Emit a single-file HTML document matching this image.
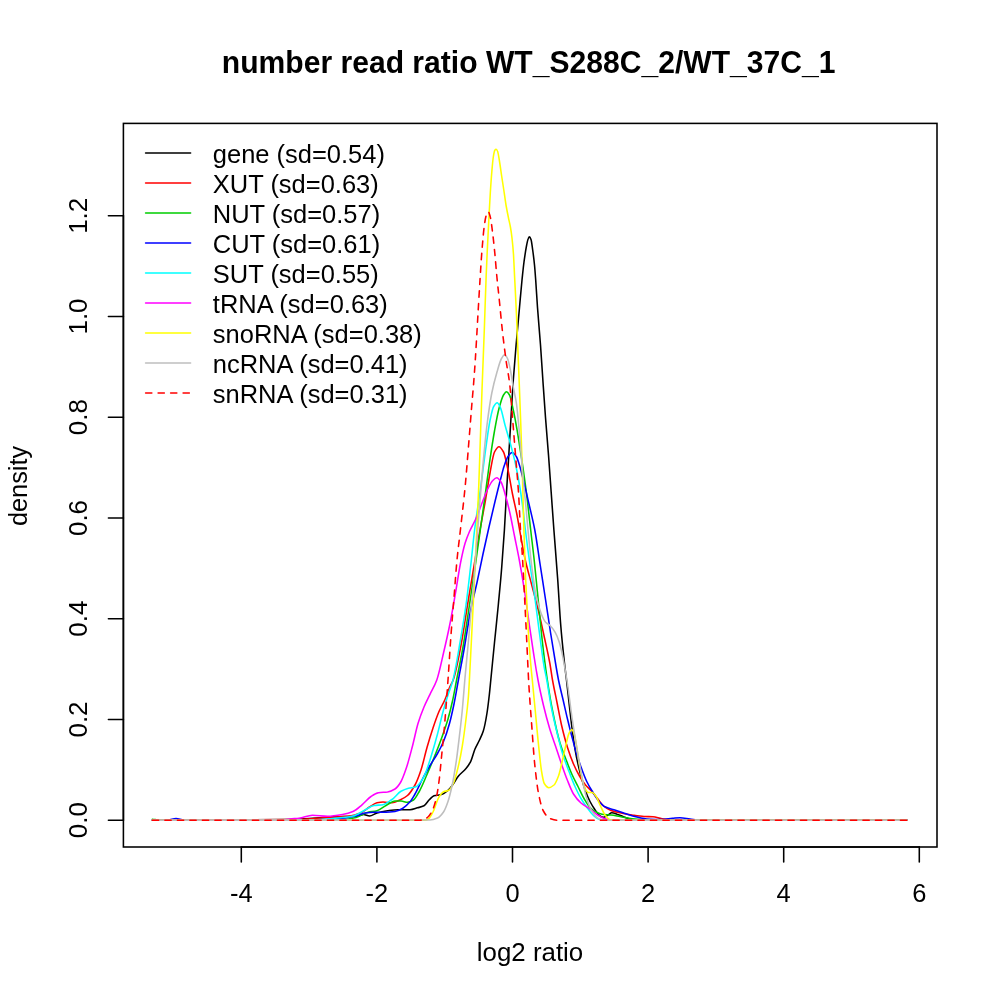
<!DOCTYPE html>
<html><head><meta charset="utf-8"><title>number read ratio</title>
<style>
html,body{margin:0;padding:0;background:#fff;}
svg{display:block}
text{font-family:"Liberation Sans",Arial,Helvetica,sans-serif;fill:#000}
.t{font-size:25px}
.m{font-size:30px;font-weight:bold}
.c{fill:none;stroke-width:1.56;stroke-linejoin:round;stroke-linecap:round}
.a{fill:none;stroke:#000;stroke-width:1.56;stroke-linecap:round}
</style></head><body>
<svg width="1000" height="1000" viewBox="0 0 1000 1000">
<rect width="1000" height="1000" fill="#fff"/>

<g>
<path class="c" stroke="#000000" d="M152.4,820.2C198.3,820.0 244.1,820.0 290.0,819.5C297.5,819.4 305.0,818.7 312.5,818.3C320.0,817.9 327.5,817.1 335.0,816.8C342.5,816.5 350.0,816.5 357.5,816.0C359.5,815.9 361.5,814.5 363.5,814.5C365.5,814.5 367.5,816.0 369.5,816.0C372.0,816.0 374.5,813.7 377.0,813.0C380.5,812.0 384.0,811.3 387.5,810.8C391.0,810.3 394.5,809.7 398.0,809.7C402.0,809.7 406.0,809.7 410.0,809.7C412.5,809.7 415.0,808.5 417.5,807.8C419.7,807.2 421.8,806.9 424.0,805.8C425.8,804.9 427.7,801.2 429.5,799.5C431.0,798.1 432.5,796.2 434.0,795.8C436.2,795.2 438.3,795.3 440.5,794.8C443.0,794.2 445.5,792.3 448.0,790.3C449.5,789.1 451.0,787.0 452.5,785.0C454.5,782.4 456.5,778.4 458.5,776.0C461.0,773.0 463.5,771.5 466.0,768.5C467.5,766.7 469.0,764.7 470.5,761.8C472.0,758.9 473.5,752.5 475.0,749.0C476.5,745.5 478.0,743.3 479.5,740.0C480.8,737.2 482.0,735.0 483.3,731.0C484.5,727.1 485.8,720.5 487.0,713.0C487.8,708.3 488.5,701.8 489.3,695.0C489.8,690.6 490.3,685.0 490.8,680.0C492.0,667.6 493.3,654.8 494.5,642.5C495.8,629.8 497.0,618.2 498.3,605.0C499.4,593.2 500.6,581.5 501.7,567.5C502.6,556.4 503.5,544.1 504.4,530.0C505.1,519.0 505.8,504.4 506.5,492.5C507.3,479.4 508.0,467.8 508.8,455.0C509.5,442.8 510.3,429.7 511.0,417.5C511.8,404.7 512.5,390.9 513.3,380.0C514.4,364.9 515.4,352.9 516.5,340.5C517.5,328.9 518.5,318.5 519.5,307.5C520.3,298.3 521.2,288.2 522.0,280.0C522.7,273.4 523.3,267.1 524.0,262.0C524.8,256.2 525.5,251.0 526.3,247.0C526.9,243.7 527.6,240.2 528.2,238.8C528.6,237.8 529.1,236.8 529.5,236.8C530.0,236.8 530.5,238.1 531.0,239.5C531.6,241.1 532.1,246.0 532.7,250.0C533.3,254.3 533.9,258.9 534.5,265.0C534.9,269.1 535.3,274.5 535.7,280.0C536.3,288.2 536.9,299.2 537.5,307.5C538.5,321.4 539.5,331.4 540.5,345.0C541.4,357.2 542.3,372.0 543.2,385.0C544.0,396.1 544.7,407.3 545.5,417.5C546.5,430.8 547.5,441.8 548.5,455.0C549.4,466.9 550.3,480.0 551.2,492.5C552.1,505.0 553.0,517.9 553.9,530.0C555.1,546.6 556.4,560.8 557.6,578.0C558.7,592.9 559.7,613.1 560.8,626.0C562.1,642.1 563.5,654.1 564.8,666.0C565.4,671.1 565.9,675.1 566.5,680.0C567.3,687.1 568.2,695.2 569.0,702.5C570.0,711.3 571.0,720.3 572.0,728.0C573.0,735.7 574.0,743.2 575.0,749.0C576.0,754.8 577.0,759.6 578.0,764.0C579.3,769.6 580.5,774.5 581.8,779.0C583.0,783.4 584.3,787.6 585.5,791.0C587.0,795.1 588.5,798.6 590.0,801.5C591.5,804.4 593.0,806.8 594.5,809.0C596.0,811.2 597.5,813.9 599.0,815.0C600.5,816.1 602.0,817.3 603.5,817.3C605.0,817.3 606.5,815.8 608.0,815.0C609.3,814.3 610.5,812.8 611.8,812.8C613.5,812.8 615.3,813.7 617.0,814.3C619.0,814.9 621.0,815.8 623.0,816.5C625.0,817.2 627.0,818.3 629.0,818.8C631.0,819.3 633.0,819.7 635.0,819.8C643.3,820.1 651.7,820.2 660.0,820.2C742.3,820.2 824.6,820.2 906.9,820.2"/>
<path class="c" stroke="#FF0000" d="M152.4,820.2C201.6,820.0 250.8,820.0 300.0,819.5C309.2,819.4 318.3,818.1 327.5,817.5C335.0,817.0 342.5,816.9 350.0,816.0C353.5,815.6 357.0,814.4 360.5,813.0C363.5,811.8 366.5,808.8 369.5,807.0C372.0,805.5 374.5,803.3 377.0,802.8C379.0,802.4 381.0,802.0 383.0,802.0C386.0,802.0 389.0,802.8 392.0,802.8C394.7,802.8 397.3,801.2 400.0,800.0C402.5,798.9 405.0,797.6 407.5,795.5C410.0,793.4 412.5,789.5 415.0,785.0C417.0,781.4 419.0,776.0 421.0,770.0C423.0,764.0 425.0,754.5 427.0,747.5C429.0,740.5 431.0,734.0 433.0,728.0C435.0,722.0 437.0,716.1 439.0,711.5C441.0,706.9 443.0,704.1 445.0,699.5C446.5,696.0 448.0,690.9 449.5,687.5C450.7,684.7 452.0,683.3 453.2,680.0C456.0,672.6 458.7,657.1 461.5,642.5C463.5,631.9 465.5,617.2 467.5,605.0C469.0,595.8 470.5,587.0 472.0,578.0C473.0,572.0 474.0,566.0 475.0,560.0C476.7,550.0 478.3,539.5 480.0,530.0C481.8,519.5 483.7,510.5 485.5,500.0C487.0,491.4 488.5,480.9 490.0,473.0C491.5,465.1 493.0,454.8 494.5,452.0C496.0,449.2 497.5,446.8 499.0,446.8C500.5,446.8 502.0,449.3 503.5,452.0C505.0,454.7 506.5,463.1 508.0,470.0C509.5,476.9 511.0,486.5 512.5,494.0C514.0,501.5 515.5,507.3 517.0,515.0C518.0,520.2 519.0,526.5 520.0,532.0C521.8,542.1 523.7,552.8 525.5,561.0C527.5,569.9 529.5,576.3 531.5,584.0C533.8,593.0 536.2,601.3 538.5,611.0C540.5,619.3 542.5,628.8 544.5,638.0C546.3,646.1 548.0,653.3 549.8,663.0C550.7,667.9 551.6,674.9 552.5,680.0C554.0,688.4 555.5,695.0 557.0,702.5C558.5,710.0 560.0,718.5 561.5,725.0C563.5,733.6 565.5,741.2 567.5,747.5C569.5,753.8 571.5,759.4 573.5,764.0C575.5,768.6 577.5,772.6 579.5,776.0C581.5,779.4 583.5,782.6 585.5,785.0C587.5,787.4 589.5,788.8 591.5,791.0C593.5,793.2 595.5,796.0 597.5,798.5C599.5,801.0 601.5,804.4 603.5,806.0C606.0,808.1 608.5,809.6 611.0,810.5C614.0,811.6 617.0,812.2 620.0,812.8C624.0,813.7 628.0,814.4 632.0,815.0C636.0,815.6 640.0,816.3 644.0,816.5C647.0,816.7 650.0,816.6 653.0,816.8C656.0,817.0 659.0,818.4 662.0,818.8C665.0,819.2 668.0,819.7 671.0,819.8C677.3,820.0 683.7,820.2 690.0,820.2C762.3,820.2 834.6,820.2 906.9,820.2"/>
<path class="c" stroke="#00CD00" d="M152.4,819.2C154.9,819.5 157.5,820.2 160.0,820.2C220.0,820.2 280.0,820.2 340.0,819.8C345.3,819.8 350.7,818.7 356.0,817.5C360.0,816.6 364.0,813.2 368.0,812.3C371.0,811.6 374.0,811.6 377.0,810.8C380.0,810.0 383.0,807.1 386.0,805.5C389.0,803.9 392.0,801.0 395.0,801.0C397.0,801.0 399.0,801.0 401.0,801.0C403.2,801.0 405.3,802.3 407.5,802.3C409.5,802.3 411.5,801.2 413.5,800.0C415.5,798.8 417.5,794.5 419.5,791.0C422.0,786.6 424.5,780.2 427.0,774.5C429.5,768.8 432.0,762.7 434.5,756.5C437.0,750.3 439.5,744.0 442.0,737.0C444.0,731.4 446.0,725.9 448.0,719.0C449.5,713.8 451.0,707.8 452.5,701.0C453.9,694.8 455.2,687.0 456.6,680.0C458.7,669.0 460.9,659.3 463.0,647.0C465.0,635.5 467.0,621.2 469.0,608.0C471.0,594.8 473.0,581.3 475.0,567.5C476.8,555.3 478.5,542.6 480.3,530.0C482.0,517.6 483.8,505.1 485.5,492.5C487.0,481.6 488.5,469.7 490.0,459.5C491.5,449.3 493.0,439.4 494.5,431.0C496.0,422.6 497.5,414.1 499.0,408.5C500.5,402.9 502.0,397.3 503.5,395.0C504.5,393.4 505.5,391.7 506.5,391.7C507.5,391.7 508.5,393.3 509.5,395.0C510.8,397.1 512.0,404.3 513.3,410.0C514.5,415.6 515.8,422.4 517.0,429.5C518.5,438.1 520.0,448.0 521.5,458.0C523.0,468.0 524.5,477.9 526.0,489.5C527.6,501.6 529.1,516.5 530.7,530.0C531.9,540.6 533.2,550.6 534.4,562.0C535.7,574.4 537.1,588.7 538.4,602.0C539.7,615.3 541.1,630.3 542.4,642.0C543.9,655.2 545.4,666.8 546.9,677.0C548.7,689.1 550.4,700.0 552.2,709.0C554.8,722.3 557.4,734.3 560.0,743.0C562.0,749.7 564.0,754.3 566.0,759.5C568.0,764.7 570.0,770.1 572.0,774.5C574.0,778.9 576.0,782.5 578.0,786.5C580.0,790.5 582.0,795.1 584.0,798.5C586.0,801.9 588.0,805.5 590.0,807.5C592.0,809.5 594.0,811.0 596.0,812.0C598.0,813.0 600.0,814.0 602.0,814.3C605.0,814.7 608.0,814.7 611.0,815.0C614.0,815.3 617.0,816.0 620.0,816.5C624.0,817.2 628.0,818.3 632.0,818.8C636.0,819.3 640.0,819.6 644.0,819.8C649.3,820.0 654.7,820.2 660.0,820.2C742.3,820.2 824.6,820.2 906.9,820.2"/>
<path class="c" stroke="#0000FF" d="M152.4,820.2C157.6,820.1 162.8,820.1 168.0,820.0C170.7,819.9 173.3,818.5 176.0,818.5C178.7,818.5 181.3,820.0 184.0,820.0C222.7,820.0 261.3,820.0 300.0,820.0C311.7,820.0 323.3,819.6 335.0,819.0C342.0,818.6 349.0,817.5 356.0,816.0C359.0,815.4 362.0,813.4 365.0,813.0C368.0,812.6 371.0,812.3 374.0,812.3C378.0,812.3 382.0,812.3 386.0,812.3C389.0,812.3 392.0,811.9 395.0,811.5C397.5,811.1 400.0,809.9 402.5,808.5C405.0,807.1 407.5,804.7 410.0,801.8C411.7,799.9 413.3,796.9 415.0,794.0C417.5,789.7 420.0,783.7 422.5,779.0C425.0,774.3 427.5,769.7 430.0,765.5C432.5,761.3 435.0,758.0 437.5,753.5C439.5,749.9 441.5,746.3 443.5,741.5C445.5,736.7 447.5,730.7 449.5,723.5C451.0,718.1 452.5,711.2 454.0,704.0C455.5,696.9 456.9,688.0 458.4,680.0C460.4,669.0 462.5,658.6 464.5,647.0C466.5,635.6 468.5,621.2 470.5,611.0C472.7,600.0 474.8,592.4 477.0,582.5C479.0,573.4 481.0,563.2 483.0,554.0C485.0,544.8 487.0,535.7 489.0,527.0C491.0,518.3 493.0,509.7 495.0,501.5C497.0,493.3 499.0,485.1 501.0,477.5C502.0,473.7 503.0,469.5 504.0,466.5C505.3,462.5 506.7,458.3 508.0,456.5C509.4,454.6 510.8,452.5 512.2,452.5C513.6,452.5 514.9,454.5 516.3,456.5C517.5,458.3 518.8,462.9 520.0,467.0C521.5,472.0 523.0,478.8 524.5,485.0C526.3,492.3 528.0,499.8 529.8,507.5C531.5,514.8 533.1,521.2 534.8,530.0C536.6,539.5 538.4,553.3 540.2,565.0C542.0,576.7 543.8,588.2 545.6,600.0C547.3,610.9 548.9,622.4 550.6,633.0C552.4,644.4 554.2,655.5 556.0,666.0C556.8,670.8 557.7,675.9 558.5,680.0C560.0,687.4 561.5,693.0 563.0,699.5C564.5,706.0 566.0,712.8 567.5,719.0C569.0,725.2 570.5,731.3 572.0,737.0C573.5,742.7 575.0,748.5 576.5,753.5C578.0,758.5 579.5,762.9 581.0,767.0C583.0,772.5 585.0,777.9 587.0,782.0C589.0,786.1 591.0,789.3 593.0,792.5C595.0,795.7 597.0,799.3 599.0,801.5C601.0,803.7 603.0,805.8 605.0,806.8C608.0,808.3 611.0,808.8 614.0,809.8C617.0,810.8 620.0,811.8 623.0,812.8C626.0,813.8 629.0,815.0 632.0,815.8C635.0,816.6 638.0,817.5 641.0,818.0C644.0,818.5 647.0,819.1 650.0,819.2C654.0,819.4 658.0,819.5 662.0,819.5C665.5,819.5 669.0,818.6 672.5,818.3C675.0,818.1 677.5,817.7 680.0,817.7C683.3,817.7 686.7,818.6 690.0,819.0C693.3,819.4 696.7,820.2 700.0,820.2C769.0,820.2 837.9,820.2 906.9,820.2"/>
<path class="c" stroke="#00FFFF" d="M152.4,820.2C204.9,820.1 257.5,820.2 310.0,820.0C318.3,820.0 326.7,819.1 335.0,818.3C341.0,817.8 347.0,817.3 353.0,816.0C357.0,815.2 361.0,812.0 365.0,810.0C368.0,808.5 371.0,805.9 374.0,805.5C377.0,805.1 380.0,805.2 383.0,804.8C386.0,804.4 389.0,801.6 392.0,799.5C395.0,797.4 398.0,792.9 401.0,791.3C403.5,789.9 406.0,789.0 408.5,788.3C411.0,787.6 413.5,787.7 416.0,786.8C418.0,786.1 420.0,783.0 422.0,780.0C423.2,778.3 424.3,775.8 425.5,773.0C427.5,768.3 429.5,761.5 431.5,755.0C433.5,748.5 435.5,741.5 437.5,734.0C439.5,726.5 441.5,717.2 443.5,710.0C445.0,704.6 446.5,699.7 448.0,695.0C449.7,689.7 451.3,686.3 453.0,680.0C455.3,671.2 457.7,656.0 460.0,642.5C462.0,630.9 464.0,619.4 466.0,605.0C467.5,594.2 469.0,580.6 470.5,567.5C471.9,555.6 473.2,541.0 474.6,530.0C476.7,512.9 478.9,500.7 481.0,485.0C482.5,474.0 484.0,461.2 485.5,450.5C487.0,439.8 488.5,427.6 490.0,420.5C491.3,414.5 492.5,408.3 493.8,406.3C494.9,404.5 496.1,402.8 497.2,402.8C498.3,402.8 499.4,405.5 500.5,407.8C502.0,411.0 503.5,419.5 505.0,425.0C507.0,432.3 509.0,438.5 511.0,446.0C512.5,451.6 514.0,457.1 515.5,464.0C517.0,470.9 518.5,478.8 520.0,488.0C521.0,494.1 522.0,501.2 523.0,509.0C523.8,515.2 524.6,523.4 525.4,530.0C526.8,541.5 528.2,552.0 529.6,562.0C531.2,573.4 532.8,582.5 534.4,594.0C536.0,605.7 537.7,619.8 539.3,632.0C540.9,643.7 542.4,656.9 544.0,666.0C544.9,671.4 545.9,674.9 546.8,680.0C548.2,687.6 549.6,698.2 551.0,705.5C553.0,715.9 555.0,724.3 557.0,732.5C559.0,740.7 561.0,748.7 563.0,755.0C565.0,761.3 567.0,766.3 569.0,771.5C571.0,776.7 573.0,782.1 575.0,786.5C577.0,790.9 579.0,795.1 581.0,798.5C583.0,801.9 585.0,804.8 587.0,807.5C589.0,810.2 591.0,813.2 593.0,815.0C595.0,816.8 597.0,818.7 599.0,819.2C601.0,819.7 603.0,820.2 605.0,820.2C705.6,820.2 806.3,820.2 906.9,820.2"/>
<path class="c" stroke="#FF00FF" d="M152.4,820.2C194.9,820.1 237.5,820.2 280.0,820.0C283.3,820.0 286.7,819.3 290.0,819.0C293.0,818.7 296.0,818.6 299.0,818.3C303.5,817.8 308.0,815.3 312.5,815.3C317.5,815.3 322.5,816.3 327.5,816.3C332.5,816.3 337.5,815.4 342.5,814.5C346.0,813.9 349.5,813.0 353.0,811.5C356.0,810.2 359.0,807.3 362.0,804.8C365.0,802.3 368.0,798.4 371.0,796.5C373.5,794.9 376.0,793.2 378.5,792.8C381.5,792.3 384.5,792.4 387.5,792.0C390.0,791.6 392.5,790.5 395.0,789.0C396.8,787.9 398.7,785.4 400.5,782.5C402.5,779.3 404.5,773.4 406.5,767.5C408.5,761.6 410.5,753.6 412.5,746.0C414.3,739.0 416.2,729.5 418.0,723.5C420.0,716.9 422.0,711.8 424.0,707.0C426.0,702.2 428.0,698.5 430.0,694.3C432.3,689.5 434.5,686.3 436.8,680.0C439.0,673.8 441.3,662.5 443.5,653.0C445.5,644.5 447.5,635.9 449.5,626.0C451.7,615.3 453.8,602.5 456.0,590.0C457.5,581.3 459.0,570.5 460.5,563.0C462.0,555.5 463.5,548.5 465.0,543.5C466.5,538.5 468.0,535.0 469.5,531.5C471.5,526.9 473.5,523.9 475.5,519.5C477.5,515.1 479.5,509.5 481.5,504.5C483.5,499.5 485.5,493.5 487.5,489.5C489.3,485.9 491.0,482.2 492.8,480.5C494.1,479.2 495.5,477.8 496.8,477.8C498.2,477.8 499.6,479.9 501.0,482.0C502.5,484.2 504.0,490.4 505.5,495.5C507.0,500.6 508.5,506.8 510.0,513.5C511.5,520.2 513.0,528.5 514.5,536.0C516.1,544.0 517.7,551.3 519.3,560.0C521.1,569.7 522.9,580.4 524.7,592.0C526.2,601.9 527.8,614.0 529.3,624.5C531.0,636.0 532.6,647.5 534.3,658.0C535.5,665.7 536.8,673.5 538.0,680.0C539.8,689.6 541.7,697.9 543.5,705.5C545.5,713.8 547.5,721.3 549.5,728.0C551.5,734.7 553.5,740.0 555.5,746.0C557.5,752.0 559.5,758.3 561.5,764.0C563.5,769.7 565.5,775.5 567.5,780.5C569.5,785.5 571.5,790.8 573.5,794.0C576.0,798.0 578.5,800.8 581.0,803.0C584.0,805.6 587.0,806.8 590.0,809.0C592.5,810.8 595.0,813.4 597.5,815.0C600.0,816.6 602.5,818.1 605.0,818.8C607.5,819.5 610.0,820.2 612.5,820.2C710.6,820.2 808.8,820.2 906.9,820.2"/>
<path class="c" stroke="#FFFF00" d="M152.4,820.2C243.3,820.2 334.1,820.2 425.0,820.2C426.3,820.2 427.7,819.4 429.0,818.5C430.3,817.6 431.7,814.6 433.0,812.0C435.0,808.1 437.0,800.1 439.0,797.0C440.5,794.7 442.0,792.5 443.5,791.8C445.3,791.0 447.0,791.2 448.8,790.3C450.3,789.6 451.8,786.6 453.3,783.5C454.8,780.4 456.3,774.5 457.8,768.5C459.3,762.5 460.8,755.0 462.3,746.0C463.5,738.6 464.8,729.1 466.0,719.0C466.8,712.7 467.5,707.3 468.3,698.0C468.7,693.6 469.0,686.5 469.4,680.0C470.0,668.8 470.7,655.0 471.3,642.5C471.9,630.0 472.6,617.8 473.2,605.0C473.8,592.8 474.4,580.0 475.0,567.5C475.6,555.0 476.2,543.0 476.8,530.0C477.5,515.6 478.1,502.3 478.8,485.0C479.3,472.1 479.8,454.9 480.3,440.0C480.9,423.2 481.4,405.7 482.0,390.0C482.8,368.7 483.5,351.1 484.3,330.0C484.9,312.6 485.6,291.0 486.2,275.0C486.6,265.8 486.9,257.8 487.3,250.0C487.8,239.3 488.3,229.5 488.8,220.0C489.3,210.5 489.8,200.9 490.3,193.0C490.8,185.1 491.3,177.8 491.8,172.0C492.3,166.2 492.8,160.1 493.3,157.0C493.8,153.9 494.3,151.0 494.8,150.3C495.2,149.7 495.6,149.2 496.0,149.2C496.5,149.2 497.0,150.0 497.5,151.0C498.1,152.1 498.7,156.6 499.3,160.0C500.0,164.2 500.8,170.1 501.5,175.0C502.3,180.1 503.0,184.9 503.8,190.0C504.5,194.9 505.3,200.7 506.0,205.0C506.8,209.5 507.5,213.2 508.3,217.0C509.0,220.7 509.8,223.3 510.5,227.5C511.0,230.4 511.5,233.7 512.0,238.0C512.5,242.3 513.0,247.2 513.5,254.5C513.8,259.4 514.2,268.2 514.5,275.0C515.2,288.5 515.8,300.1 516.5,315.0C517.0,326.2 517.5,340.0 518.0,352.5C518.4,363.3 518.9,373.8 519.3,385.0C519.8,397.9 520.3,410.9 520.8,425.0C521.3,439.1 521.8,453.4 522.3,470.0C522.8,487.8 523.4,512.8 523.9,530.0C524.5,548.3 525.0,564.6 525.6,578.0C526.4,596.9 527.2,612.9 528.0,626.0C529.0,641.9 529.9,655.0 530.9,666.0C531.4,671.3 531.8,675.3 532.3,680.0C533.3,689.8 534.2,699.9 535.2,710.0C536.3,721.1 537.3,733.3 538.4,743.5C539.4,753.4 540.5,764.9 541.5,771.0C542.4,776.5 543.4,782.0 544.3,783.5C545.8,785.9 547.3,787.7 548.8,787.7C550.5,787.7 552.3,786.4 554.0,785.0C555.5,783.7 557.0,780.0 558.5,776.0C559.8,772.6 561.0,766.3 562.3,761.0C563.5,755.8 564.8,749.5 566.0,744.5C567.0,740.4 568.0,735.3 569.0,733.3C569.9,731.5 570.8,729.5 571.7,729.5C572.6,729.5 573.4,731.7 574.3,734.0C575.0,736.0 575.8,741.7 576.5,746.0C577.5,751.9 578.5,759.8 579.5,765.5C580.5,771.2 581.5,776.8 582.5,780.5C583.5,784.2 584.5,788.0 585.5,789.5C586.5,791.0 587.5,792.5 588.5,792.5C589.8,792.5 591.0,792.5 592.3,792.5C593.5,792.5 594.8,794.6 596.0,796.3C597.5,798.4 599.0,802.9 600.5,806.0C602.0,809.1 603.5,813.0 605.0,815.0C606.5,817.0 608.0,819.1 609.5,819.5C611.0,819.9 612.5,820.2 614.0,820.2C711.6,820.2 809.3,820.2 906.9,820.2"/>
<path class="c" stroke="#BEBEBE" d="M152.4,820.2C244.9,820.1 337.5,820.2 430.0,820.0C432.5,820.0 435.0,819.1 437.5,818.0C439.5,817.1 441.5,814.9 443.5,812.0C445.0,809.9 446.5,805.9 448.0,801.5C449.5,797.1 451.0,790.7 452.5,783.5C453.8,777.4 455.0,769.7 456.3,761.0C457.3,754.2 458.3,745.5 459.3,737.0C460.3,728.5 461.3,720.3 462.3,710.0C463.1,701.4 464.0,689.5 464.8,680.0C466.0,666.8 467.1,655.5 468.3,642.5C469.3,631.4 470.3,619.2 471.3,608.0C472.3,596.8 473.3,587.2 474.3,575.0C475.0,566.0 475.8,554.5 476.5,545.0C476.9,539.8 477.3,535.0 477.7,530.0C479.3,510.0 480.9,487.8 482.5,470.0C484.0,453.4 485.5,437.0 487.0,425.0C488.6,412.2 490.2,401.1 491.8,393.0C493.5,384.3 495.3,377.9 497.0,372.0C498.5,366.9 500.0,361.1 501.5,358.5C502.5,356.8 503.5,354.8 504.5,354.8C505.5,354.8 506.5,356.6 507.5,358.5C508.5,360.4 509.5,365.7 510.5,370.5C511.5,375.2 512.4,382.7 513.4,388.0C514.4,393.3 515.3,396.1 516.3,402.5C517.5,410.6 518.8,426.1 520.0,440.0C521.0,451.2 522.0,466.4 523.0,477.5C524.0,488.6 525.0,496.9 526.0,507.5C526.7,514.6 527.3,522.9 528.0,530.0C529.0,540.6 530.0,551.6 531.0,560.0C532.7,573.9 534.3,587.1 536.0,595.0C537.7,602.9 539.3,608.7 541.0,613.0C542.5,617.0 544.1,620.6 545.6,622.3C547.2,624.0 548.7,624.3 550.3,625.8C551.9,627.4 553.6,629.6 555.2,632.4C556.5,634.7 557.9,638.0 559.2,642.0C560.3,645.2 561.3,649.9 562.4,654.8C563.2,658.5 564.0,663.1 564.8,667.6C565.7,672.7 566.6,678.0 567.5,684.0C569.0,694.0 570.5,707.1 572.0,717.5C573.0,724.4 574.0,730.8 575.0,737.0C576.0,743.2 577.0,749.2 578.0,755.0C579.3,762.3 580.5,769.4 581.8,776.0C583.0,782.4 584.3,789.4 585.5,794.0C587.0,799.6 588.5,804.3 590.0,807.5C591.5,810.7 593.0,813.4 594.5,815.0C596.5,817.1 598.5,819.1 600.5,819.5C602.3,819.9 604.2,820.2 606.0,820.2C706.3,820.2 806.6,820.2 906.9,820.2"/>
<path class="c" stroke="#FF0000" stroke-dasharray="6.25 6.25" d="M152.4,820.2C241.6,820.2 330.8,820.2 420.0,820.2C421.3,820.2 422.7,819.9 424.0,819.5C425.5,819.1 427.0,817.9 428.5,816.5C430.0,815.1 431.5,812.4 433.0,809.0C434.3,806.1 435.5,801.5 436.8,795.5C437.6,791.6 438.5,785.6 439.3,779.0C440.1,772.6 440.9,763.0 441.7,755.0C442.4,748.0 443.1,741.6 443.8,734.0C444.5,726.7 445.1,718.5 445.8,710.0C446.5,700.6 447.3,690.5 448.0,680.0C449.0,665.7 450.0,648.6 451.0,635.0C452.0,621.4 453.0,610.0 454.0,597.5C455.0,585.0 456.0,570.4 457.0,560.0C458.1,548.2 459.3,540.2 460.4,530.0C462.0,515.3 463.7,502.2 465.3,485.0C466.5,472.0 467.8,455.2 469.0,440.0C470.0,427.7 471.0,414.5 472.0,402.5C472.5,396.5 473.0,391.3 473.5,385.0C474.1,377.4 474.7,369.2 475.3,360.0C476.0,348.8 476.8,335.0 477.5,322.5C478.4,306.6 479.4,289.6 480.3,275.0C480.9,266.1 481.4,257.0 482.0,250.0C482.8,240.6 483.5,231.5 484.3,226.0C484.9,221.5 485.6,217.2 486.2,215.5C486.9,213.6 487.6,211.8 488.3,211.8C489.0,211.8 489.6,214.5 490.3,217.0C491.0,219.7 491.8,226.3 492.5,232.0C493.3,238.0 494.0,245.2 494.8,253.0C495.5,259.8 496.1,269.0 496.8,276.0C497.6,284.7 498.5,291.8 499.3,300.0C500.3,309.8 501.3,321.0 502.3,330.0C503.5,341.1 504.8,351.0 506.0,360.0C507.3,369.2 508.5,374.0 509.8,385.0C510.7,392.8 511.6,406.5 512.5,417.5C513.5,429.8 514.5,442.5 515.5,455.0C516.5,467.5 517.5,477.3 518.5,492.5C519.2,502.6 519.8,519.6 520.5,530.0C521.1,538.9 521.6,544.2 522.2,553.0C523.0,566.0 523.9,583.8 524.7,600.0C525.4,613.6 526.1,627.6 526.8,642.0C527.4,655.0 528.1,671.0 528.7,682.0C529.7,699.3 530.7,711.4 531.7,725.0C532.7,738.6 533.7,754.3 534.7,764.0C536.1,777.5 537.5,788.9 538.9,795.5C540.4,802.6 541.9,808.3 543.4,811.0C545.5,814.8 547.6,817.5 549.7,818.4C552.1,819.4 554.6,820.2 557.0,820.2C673.6,820.2 790.3,820.2 906.9,820.2"/>
</g>
<rect class="a" x="123.4" y="123.4" width="813.6" height="723.6"/>
<path class="a" d="M241.3,847H919.3"/>
<path class="a" d="M241.3,847v15"/>
<text class="t" transform="translate(241.3,901.6) scale(1.020,1.050)" text-anchor="middle">-4</text>
<path class="a" d="M376.9,847v15"/>
<text class="t" transform="translate(376.9,901.6) scale(1.020,1.050)" text-anchor="middle">-2</text>
<path class="a" d="M512.5,847v15"/>
<text class="t" transform="translate(512.5,901.6) scale(1.020,1.050)" text-anchor="middle">0</text>
<path class="a" d="M648.1,847v15"/>
<text class="t" transform="translate(648.1,901.6) scale(1.020,1.050)" text-anchor="middle">2</text>
<path class="a" d="M783.7,847v15"/>
<text class="t" transform="translate(783.7,901.6) scale(1.020,1.050)" text-anchor="middle">4</text>
<path class="a" d="M919.3,847v15"/>
<text class="t" transform="translate(919.3,901.6) scale(1.020,1.050)" text-anchor="middle">6</text>
<path class="a" d="M123.4,820.2V215.8"/>
<path class="a" d="M123.4,820.2h-15"/>
<text class="t" transform="translate(87.2,820.2) rotate(-90) scale(1.040,1.050)" text-anchor="middle">0.0</text>
<path class="a" d="M123.4,719.5h-15"/>
<text class="t" transform="translate(87.2,719.5) rotate(-90) scale(1.040,1.050)" text-anchor="middle">0.2</text>
<path class="a" d="M123.4,618.7h-15"/>
<text class="t" transform="translate(87.2,618.7) rotate(-90) scale(1.040,1.050)" text-anchor="middle">0.4</text>
<path class="a" d="M123.4,518.0h-15"/>
<text class="t" transform="translate(87.2,518.0) rotate(-90) scale(1.040,1.050)" text-anchor="middle">0.6</text>
<path class="a" d="M123.4,417.2h-15"/>
<text class="t" transform="translate(87.2,417.2) rotate(-90) scale(1.040,1.050)" text-anchor="middle">0.8</text>
<path class="a" d="M123.4,316.5h-15"/>
<text class="t" transform="translate(87.2,316.5) rotate(-90) scale(1.040,1.050)" text-anchor="middle">1.0</text>
<path class="a" d="M123.4,215.8h-15"/>
<text class="t" transform="translate(87.2,215.8) rotate(-90) scale(1.040,1.050)" text-anchor="middle">1.2</text>
<text class="m" transform="translate(528.6,72.8) scale(1.003,1.070)" text-anchor="middle">number read ratio WT_S288C_2/WT_37C_1</text>
<text class="t" transform="translate(530.0,961.2) scale(1.035,1.050)" text-anchor="middle">log2 ratio</text>
<text class="t" transform="translate(27.2,486.0) rotate(-90) scale(1.012,1.050)" text-anchor="middle">density</text>
<path class="c" stroke="#000000" d="M145.6,153.0H190.6"/>
<text class="t" transform="translate(212.8,162.8) scale(1.020,1.050)" text-anchor="start">gene (sd=0.54)</text>
<path class="c" stroke="#FF0000" d="M145.6,183.0H190.6"/>
<text class="t" transform="translate(212.8,192.8) scale(1.020,1.050)" text-anchor="start">XUT (sd=0.63)</text>
<path class="c" stroke="#00CD00" d="M145.6,213.0H190.6"/>
<text class="t" transform="translate(212.8,222.8) scale(1.020,1.050)" text-anchor="start">NUT (sd=0.57)</text>
<path class="c" stroke="#0000FF" d="M145.6,243.0H190.6"/>
<text class="t" transform="translate(212.8,252.8) scale(1.020,1.050)" text-anchor="start">CUT (sd=0.61)</text>
<path class="c" stroke="#00FFFF" d="M145.6,273.0H190.6"/>
<text class="t" transform="translate(212.8,282.8) scale(1.020,1.050)" text-anchor="start">SUT (sd=0.55)</text>
<path class="c" stroke="#FF00FF" d="M145.6,303.0H190.6"/>
<text class="t" transform="translate(212.8,312.8) scale(1.020,1.050)" text-anchor="start">tRNA (sd=0.63)</text>
<path class="c" stroke="#FFFF00" d="M145.6,333.0H190.6"/>
<text class="t" transform="translate(212.8,342.8) scale(1.020,1.050)" text-anchor="start">snoRNA (sd=0.38)</text>
<path class="c" stroke="#BEBEBE" d="M145.6,363.0H190.6"/>
<text class="t" transform="translate(212.8,372.8) scale(1.020,1.050)" text-anchor="start">ncRNA (sd=0.41)</text>
<path class="c" stroke="#FF0000" stroke-dasharray="6.25 6.25" d="M145.6,393.0H190.6"/>
<text class="t" transform="translate(212.8,402.8) scale(1.020,1.050)" text-anchor="start">snRNA (sd=0.31)</text>
</svg></body></html>
